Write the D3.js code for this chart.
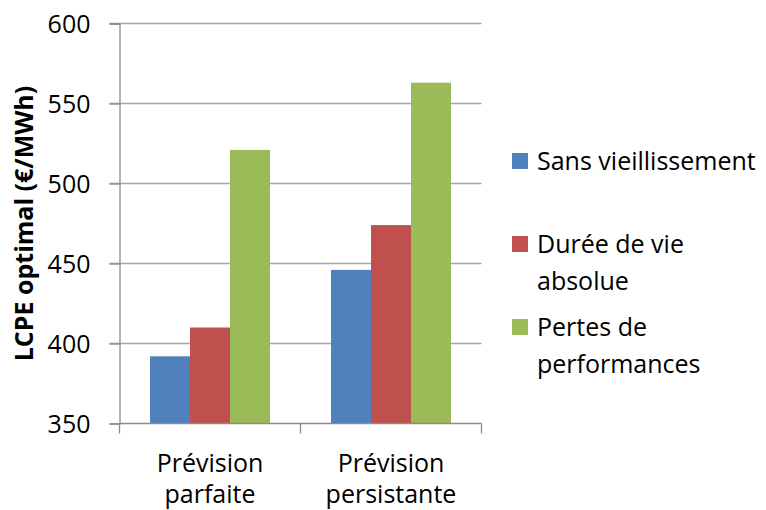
<!DOCTYPE html>
<html>
<head>
<meta charset="utf-8">
<script src="https://cdn.jsdelivr.net/npm/d3@7/dist/d3.min.js"></script>
<style>
  html, body { margin: 0; padding: 0; background: #fff; }
  svg { display: block; font-family: "Open Sans", "DejaVu Sans", sans-serif; }
</style>
</head>
<body>
<svg id="chart" width="766" height="510"></svg>
<script>
// Scenario categories (two-line labels) and aging-model series
const categories = ["Prévision parfaite", "Prévision persistante"];
const categoryLines = [["Prévision", "parfaite"], ["Prévision", "persistante"]];
const seriesNames = ["Sans vieillissement", "Durée de vie absolue", "Pertes de performances"];
const legendLines = [["Sans vieillissement"], ["Durée de vie", "absolue"], ["Pertes de", "performances"]];
const seriesColors = ["#4F81BD", "#C0504D", "#9BBB59"];
// LCPE optimal (€/MWh), one array per series, ordered as categories
const sansVieillissement = [392, 446];
const dureeDeVie = [410, 474];
const pertesPerformances = [521, 563];
const yTicks = [350, 400, 450, 500, 550, 600];
const yTitle = "LCPE optimal (€/MWh)";

const seriesValues = [sansVieillissement, dureeDeVie, pertesPerformances];

const svg = d3.select("#chart");
const plot = { left: 119.5, right: 481.5, top: 23.5, bottom: 423.5 };

const y = d3.scaleLinear().domain([350, 600]).range([plot.bottom, plot.top]);
const x0 = d3.scaleBand().domain(categories).range([plot.left, plot.right]).padding(0);
const bw = x0.bandwidth();
const inset = bw * 0.1685;
const x1 = d3.scaleBand().domain(seriesNames).range([inset, bw - inset]).padding(0);

const gridColor = "#a6a6a6";
const axisColor = "#8c8c8c";

// horizontal gridlines
svg.append("g")
  .selectAll("line")
  .data(yTicks.filter(t => t !== 350))
  .join("line")
  .attr("x1", plot.left - 10).attr("x2", plot.right)
  .attr("y1", d => y(d)).attr("y2", d => y(d))
  .attr("stroke", gridColor).attr("stroke-width", 1.3);

// bars
const groups = svg.append("g")
  .selectAll("g")
  .data(categories)
  .join("g")
  .attr("transform", d => `translate(${x0(d)},0)`);

groups.selectAll("rect")
  .data((c, ci) => seriesNames.map((s, si) => ({ s, si, v: seriesValues[si][ci] })))
  .join("rect")
  .attr("x", d => x1(d.s))
  .attr("width", x1.bandwidth())
  .attr("y", d => y(d.v))
  .attr("height", d => y(350) - y(d.v))
  .attr("fill", d => seriesColors[d.si]);

// y axis
const yAxis = d3.axisLeft(y).tickValues(yTicks).tickSize(10).tickPadding(19).tickFormat(d3.format("d"));
const gy = svg.append("g").attr("transform", `translate(${plot.left},0)`).call(yAxis);
gy.select(".domain").attr("stroke", axisColor).attr("stroke-width", 1.3);
gy.selectAll(".tick line").attr("stroke", axisColor).attr("stroke-width", 1.3);
gy.selectAll(".tick text")
  .attr("font-size", 25).attr("fill", "#000")
  .attr("font-family", "'Open Sans', sans-serif")
  .attr("dy", "0.36em");

// x axis line with boundary ticks
const gx = svg.append("g");
gx.append("line")
  .attr("x1", plot.left).attr("x2", plot.right)
  .attr("y1", plot.bottom).attr("y2", plot.bottom)
  .attr("stroke", axisColor).attr("stroke-width", 1.3);
const bounds = categories.map(c => x0(c)).concat([x0(categories[categories.length - 1]) + bw]);
gx.selectAll("line.tk")
  .data(bounds)
  .join("line")
  .attr("class", "tk")
  .attr("x1", d => d).attr("x2", d => d)
  .attr("y1", plot.bottom).attr("y2", plot.bottom + 10)
  .attr("stroke", axisColor).attr("stroke-width", 1.3);

// category labels, two lines each
const catText = gx.selectAll("text.cat")
  .data(categories)
  .join("text")
  .attr("class", "cat")
  .attr("text-anchor", "middle")
  .attr("font-size", 25)
  .attr("fill", "#000");
catText.each(function (c, i) {
  const t = d3.select(this);
  categoryLines[i].forEach((line, li) => {
    t.append("tspan")
      .attr("x", x0(c) + bw / 2)
      .attr("y", 472 + li * 31)
      .text(line);
  });
});

// y axis title
svg.append("text")
  .attr("transform", `translate(33,${(plot.top + plot.bottom) / 2}) rotate(-90)`)
  .attr("text-anchor", "middle")
  .attr("font-size", 25)
  .attr("font-weight", "bold")
  .attr("fill", "#000")
  .text(yTitle);

// legend
const legendTops = [153, 236, 319];
const legend = svg.append("g");
seriesNames.forEach((s, i) => {
  legend.append("rect")
    .attr("x", 512).attr("y", legendTops[i])
    .attr("width", 16).attr("height", 16)
    .attr("fill", seriesColors[i]);
  const t = legend.append("text").attr("font-size", 25).attr("fill", "#000");
  legendLines[i].forEach((line, li) => {
    t.append("tspan")
      .attr("x", 537)
      .attr("y", legendTops[i] + 17 + li * 36.5)
      .text(line);
  });
});
</script>
</body>
</html>
